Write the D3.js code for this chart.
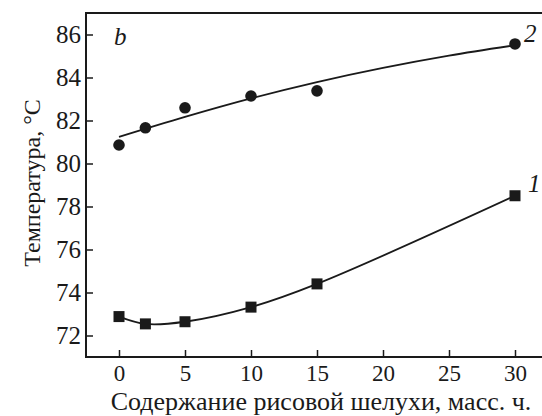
<!DOCTYPE html>
<html>
<head>
<meta charset="utf-8">
<script src="https://cdn.jsdelivr.net/npm/d3@7"></script>
<style>
	body { margin: 0; background: #fff; }
	svg text { font-family: 'Liberation Serif', 'Times New Roman', serif !important; }
</style>
</head>
<body>
<svg id="chart" width="542" height="416"></svg>
<script>
// rice husk content, mass parts
const husk = [0, 2, 5, 10, 15, 30];
// curve 1 (squares)
const temp1 = [72.88, 72.54, 72.64, 73.32, 74.4, 78.5];
// curve 2 (circles)
const temp2 = [80.86, 81.66, 82.59, 83.14, 83.38, 85.56];
// trend line for curve 2
const fitX = [0, 5, 10, 15, 20, 25, 30];
const fit2 = [81.24, 82.17, 83.03, 83.79, 84.45, 85.02, 85.5];

const xTicks = [0, 5, 10, 15, 20, 25, 30];
const yTicks = [72, 74, 76, 78, 80, 82, 84, 86];

const width = 542, height = 416;
const mLeft = 86, mTop = 13, mBottom = 357, mRight = 542;
const ink = '#1a1a1a';

const x = d3.scaleLinear().domain([-2.5, 32]).range([mLeft, 541.4]);
const y = d3.scaleLinear().domain([71, 87]).range([mBottom, mTop]);

const svg = d3.select('#chart');
svg.append('rect').attr('width', width).attr('height', height).attr('fill', '#fff');

// y axis, ticks inward
const gy = svg.append('g')
	.attr('transform', `translate(${mLeft},0)`)
	.call(d3.axisLeft(y).tickValues(yTicks).tickFormat(d3.format('d')).tickSizeInner(-7).tickSizeOuter(0).tickPadding(5));
gy.select('.domain').remove();
gy.selectAll('line').attr('stroke', ink).attr('stroke-width', 1.5);
gy.selectAll('text').style('font-size', '25px').attr('fill', ink);

// x axis, ticks inward
const gx = svg.append('g')
	.attr('transform', `translate(0,${mBottom})`)
	.call(d3.axisBottom(x).tickValues(xTicks).tickFormat(d3.format('d')).tickSizeInner(-7).tickSizeOuter(0).tickPadding(8));
gx.select('.domain').remove();
gx.selectAll('line').attr('stroke', ink).attr('stroke-width', 1.5);
gx.selectAll('text').style('font-size', '23px').attr('fill', ink);

// frame (no right side)
const frame = svg.append('g').attr('stroke', ink).attr('stroke-width', 2);
frame.append('line').attr('x1', mLeft).attr('x2', mLeft).attr('y1', mTop).attr('y2', mBottom);
frame.append('line').attr('x1', mLeft - 1).attr('x2', mRight).attr('y1', mTop).attr('y2', mTop);
frame.append('line').attr('x1', mLeft - 1).attr('x2', mRight).attr('y1', mBottom).attr('y2', mBottom);

// curve 1
const line1 = d3.line().x((d, i) => x(husk[i])).y(d => y(d)).curve(d3.curveCatmullRom.alpha(0.5));
svg.append('path').attr('d', line1(temp1))
	.attr('fill', 'none').attr('stroke', ink).attr('stroke-width', 1.8);

// curve 2 trend
const line2 = d3.line().x((d, i) => x(fitX[i])).y(d => y(d)).curve(d3.curveCatmullRom.alpha(0.5));
svg.append('path').attr('d', line2(fit2))
	.attr('fill', 'none').attr('stroke', ink).attr('stroke-width', 1.8);

svg.append('g').selectAll('rect')
	.data(temp1)
	.enter()
	.append('rect')
	.attr('x', (d, i) => x(husk[i]) - 5.5)
	.attr('y', d => y(d) - 5.5)
	.attr('width', 11)
	.attr('height', 11)
	.attr('fill', ink);

svg.append('g').selectAll('circle')
	.data(temp2)
	.enter()
	.append('circle')
	.attr('cx', (d, i) => x(husk[i]))
	.attr('cy', d => y(d))
	.attr('r', 5.8)
	.attr('fill', ink);

// labels
const lab = svg.append('g').attr('fill', ink).style('font-style', 'italic');
lab.append('text').attr('x', 114).attr('y', 45).style('font-size', '25px').text('b');
lab.append('text').attr('x', 524).attr('y', 42).style('font-size', '25px').text('2');
lab.append('text').attr('x', 528).attr('y', 192).style('font-size', '25px').text('1');

svg.append('text')
	.attr('x', 321)
	.attr('y', 410)
	.attr('text-anchor', 'middle')
	.style('font-size', '26px')
	.attr('fill', ink)
	.text('Содержание рисовой шелухи, масс. ч.');

svg.append('text')
	.attr('transform', 'translate(40,183) rotate(-90)')
	.attr('text-anchor', 'middle')
	.style('font-size', '24px')
	.attr('fill', ink)
	.text('Температура, °C');
</script>
</body>
</html>
